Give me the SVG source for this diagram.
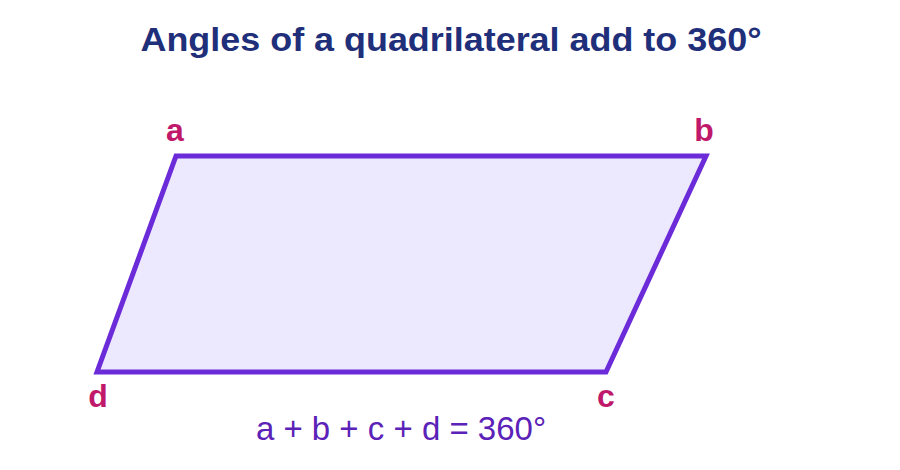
<svg xmlns="http://www.w3.org/2000/svg" width="900" height="470" viewBox="0 0 900 470">
<style>
.title{font-family:"Liberation Sans",Arial,sans-serif;font-weight:bold;font-size:34px;fill:#1f2f7a;text-anchor:middle}
.lbl{font-family:"Liberation Sans",Arial,sans-serif;font-weight:bold;font-size:32px;fill:#c0186a;text-anchor:middle}
.eq{font-family:"Liberation Sans",Arial,sans-serif;font-size:33px;fill:#5b22b8;text-anchor:middle}
</style>
<rect width="900" height="470" fill="#ffffff"/>
<text class="title" x="451" y="51" textLength="621" lengthAdjust="spacingAndGlyphs">Angles of a quadrilateral add to 360°</text>
<g id="shape">
<polygon points="176,156 706,156 606,372 97,372" fill="#ece8fd" stroke="#6c2bd9" stroke-width="5" stroke-linejoin="miter"/>
</g>
<g id="labels">
<text class="lbl" x="175" y="141">a</text>
<text class="lbl" x="704" y="141">b</text>
<text class="lbl" x="606" y="407">c</text>
<text class="lbl" x="98" y="407">d</text>
</g>
<text class="eq" x="401" y="440">a + b + c + d = 360°</text>
</svg>
